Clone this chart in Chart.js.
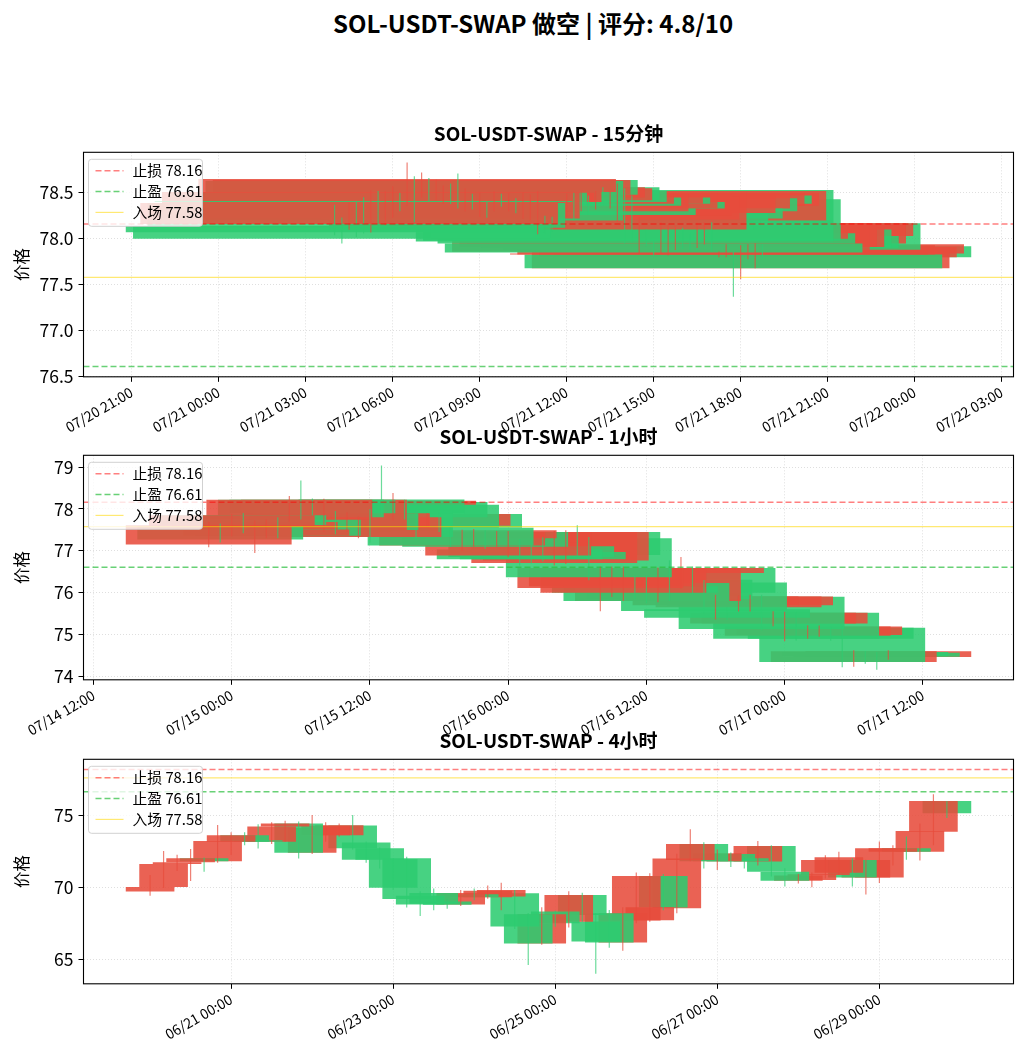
<!DOCTYPE html>
<html lang="zh">
<head>
<meta charset="utf-8">
<title>SOL-USDT-SWAP 做空</title>
<script src="https://cdn.jsdelivr.net/npm/chart.js@4.4.1/dist/chart.umd.min.js"></script>
<style>
  body { margin: 0; background: #fff; }
  #page { position: relative; width: 1024px; height: 1058px; overflow: hidden;
          font-family: "Noto Sans CJK SC", "Noto Sans", sans-serif; }
  #suptitle { position: absolute; left: 21px; top: 7px; width: 1024px; text-align: center;
              font-size: 24px; font-weight: bold; line-height: 32px; color: #000; }
  canvas { position: absolute; left: 0; }
</style>
</head>
<body>
<div id="page">
  <div id="suptitle">SOL-USDT-SWAP 做空 | 评分: 4.8/10</div>
  <canvas id="chart15m" width="1024" height="347" style="top:100px"></canvas>
  <canvas id="chart1h" width="1024" height="347" style="top:403px"></canvas>
  <canvas id="chart4h" width="1024" height="347" style="top:707px"></canvas>
</div>
<script>
const FONT = '"Noto Sans CJK SC", "Noto Sans", sans-serif';
Chart.defaults.font.family = FONT;
Chart.defaults.color = '#000';

const UP = 'rgba(231, 76, 60, 0.88)';    // 红涨
const DOWN = 'rgba(46, 204, 113, 0.88)'; // 绿跌
const UP_WICK = 'rgba(231, 76, 60, 0.7)';
const DOWN_WICK = 'rgba(46, 204, 113, 0.7)';
const CANDLE_WIDTH_H = 14.4;             // bar width = 0.6 day

const stopLoss = 78.16;
const takeProfit = 76.61;
const entryPrice = 77.58;

// ---------- 15分钟 (hours from 07/20 00:00) ----------
const start15 = 28;
const step15 = 0.25;
const open15 = [78.14, 78.14, 78.16, 78.39, 78.41, 78.22, 78.50, 78.40, 78.40, 78.40,
                78.51, 78.63, 78.48, 78.64, 78.45, 78.42, 78.56, 78.52, 78.38, 78.45,
                78.30, 78.33, 78.38, 78.45, 78.33, 78.40, 78.25, 78.21, 78.10, 78.19,
                78.19, 78.28, 78.28, 78.33, 78.33, 78.44, 78.36, 78.47, 78.36, 78.20,
                78.53, 78.43, 78.00, 78.06, 77.95, 77.86, 77.91, 77.91, 78.10, 78.03,
                77.95, 78.03, 78.17, 77.83, 77.83, 77.83, 77.68, 77.80, 77.84, 77.92];
const close15 = [78.07, 78.00, 78.39, 78.12, 78.40, 78.51, 78.37, 78.50, 78.51, 78.38,
                 78.65, 78.20, 78.64, 78.48, 78.56, 78.55, 78.42, 78.40, 78.50, 78.36,
                 78.48, 78.26, 78.50, 78.38, 78.49, 78.33, 78.48, 78.46, 78.50, 78.10,
                 78.13, 78.19, 78.47, 78.22, 78.48, 78.30, 78.50, 78.38, 78.50, 78.52,
                 77.97, 77.98, 78.17, 77.95, 77.85, 78.17, 78.15, 78.12, 77.91, 77.90,
                 78.17, 78.17, 77.88, 77.84, 77.93, 77.68, 77.91, 77.91, 77.94, 77.80];
const high15 = [78.37, 78.23, 78.40, 78.40, 78.45, 78.53, 78.52, 78.52, 78.57, 78.50,
                78.83, 78.68, 78.72, 78.66, 78.64, 78.58, 78.60, 78.71, 78.55, 78.49,
                78.50, 78.40, 78.52, 78.49, 78.50, 78.44, 78.50, 78.48, 78.52, 78.25,
                78.24, 78.33, 78.49, 78.50, 78.50, 78.47, 78.52, 78.56, 78.52, 78.60,
                78.55, 78.47, 78.23, 78.10, 77.98, 78.18, 78.16, 78.14, 78.12, 78.06,
                78.18, 78.18, 78.18, 77.86, 77.94, 77.86, 77.93, 77.94, 77.95, 77.94];
const low15 = [78.04, 77.95, 78.10, 78.02, 78.06, 78.07, 78.10, 78.15, 78.23, 78.30,
               78.36, 78.18, 78.45, 78.41, 78.42, 78.38, 78.38, 78.33, 78.30, 78.32,
               78.24, 78.23, 78.30, 78.35, 78.30, 78.28, 78.22, 78.20, 78.05, 78.06,
               78.08, 78.15, 78.24, 78.20, 78.30, 78.26, 78.32, 78.36, 78.33, 78.19,
               77.95, 77.96, 77.84, 77.92, 77.82, 77.84, 77.82, 77.88, 77.89, 77.88,
               77.90, 77.94, 77.86, 77.80, 77.80, 77.37, 77.56, 77.78, 77.68, 77.78];
const xTicks15 = [21, 24, 27, 30, 33, 36, 39, 42, 45, 48, 51];
const xLabels15 = ['07/20 21:00', '07/21 00:00', '07/21 03:00', '07/21 06:00', '07/21 09:00',
                   '07/21 12:00', '07/21 15:00', '07/21 18:00', '07/21 21:00', '07/22 00:00',
                   '07/22 03:00'];
const yTicks15 = [76.5, 77.0, 77.5, 78.0, 78.5];

// ---------- 1小时 (hours from 07/14 00:00) ----------
const start1h = 22;
const step1h = 1;
const open1h = [77.15, 77.58, 77.58, 77.85, 77.51, 77.36, 77.74, 77.74, 78.22, 78.22,
                77.50, 77.90, 77.55, 77.33, 77.95, 78.23, 78.10, 78.17, 78.10, 77.60,
                77.88, 77.55, 77.13, 77.30, 77.45, 77.20, 76.89, 77.03, 77.11, 76.97,
                76.71, 76.77, 77.45, 77.30, 76.11, 76.15, 76.00, 76.15, 76.23, 75.80,
                76.31, 76.47, 76.59, 76.24, 75.70, 75.60, 75.65, 75.70, 75.90, 75.26,
                75.26, 75.52, 74.97, 74.99, 75.16, 75.16, 74.34, 74.58, 74.56, 74.46];
const close1h = [77.61, 77.27, 77.85, 77.62, 77.69, 77.51, 77.36, 78.22, 77.80, 77.90,
                 78.22, 77.50, 77.90, 77.80, 77.33, 77.90, 78.20, 77.80, 77.55, 77.88,
                 77.55, 77.13, 77.45, 77.49, 77.10, 77.45, 77.45, 76.80, 76.85, 76.80,
                 77.45, 77.45, 76.90, 76.37, 76.59, 76.59, 76.59, 76.00, 75.80, 76.59,
                 75.85, 76.59, 76.00, 75.56, 75.91, 75.40, 75.91, 75.91, 75.13, 75.52,
                 75.52, 74.90, 75.19, 75.19, 74.90, 74.34, 74.60, 74.48, 74.47, 74.60];
const high1h = [77.70, 77.65, 77.88, 77.90, 77.72, 77.75, 77.80, 78.31, 78.68, 78.25,
                78.24, 77.95, 77.92, 77.82, 78.00, 79.04, 78.38, 78.22, 78.12, 77.90,
                77.92, 77.60, 77.50, 77.52, 77.49, 77.47, 77.47, 77.28, 77.30, 77.32,
                77.47, 77.49, 77.61, 77.33, 76.62, 76.62, 76.62, 76.40, 76.40, 76.60,
                76.77, 76.85, 76.62, 76.30, 75.95, 75.65, 75.93, 75.95, 75.95, 75.55,
                75.54, 75.55, 75.22, 75.21, 75.18, 75.18, 74.62, 74.60, 74.58, 74.62];
const low1h = [77.09, 77.20, 77.35, 77.42, 76.95, 77.30, 77.30, 77.70, 77.75, 77.85,
               77.45, 77.40, 77.45, 77.30, 77.20, 77.85, 77.73, 77.75, 77.27, 77.55,
               77.45, 77.10, 77.00, 77.10, 77.05, 77.10, 76.85, 76.65, 76.70, 76.75,
               76.65, 76.69, 76.85, 76.30, 75.56, 75.90, 75.80, 75.85, 75.75, 75.77,
               75.80, 76.10, 75.95, 75.50, 75.36, 75.35, 75.55, 75.55, 75.10, 75.20,
               74.84, 74.85, 74.90, 74.95, 74.85, 74.22, 74.23, 74.30, 74.16, 74.40];
const xTicks1h = [12, 24, 36, 48, 60, 72, 84];
const xLabels1h = ['07/14 12:00', '07/15 00:00', '07/15 12:00', '07/16 00:00',
                   '07/16 12:00', '07/17 00:00', '07/17 12:00'];
const yTicks1h = [74, 75, 76, 77, 78, 79];

// ---------- 4小时 (hours from 06/20 00:00) ----------
const start4h = 0;
const step4h = 4;
const open4h = [69.70, 70.00, 71.60, 71.72, 72.00, 71.80, 73.15, 73.60, 73.25, 73.15,
                74.20, 74.42, 72.39, 73.60, 73.60, 74.28, 73.10, 72.70, 71.93, 72.00,
                69.40, 69.60, 69.00, 68.80, 69.50, 69.30, 69.35, 69.57, 68.12, 66.09,
                68.30, 67.60, 69.46, 67.61, 68.19, 66.16, 67.68, 67.70, 70.77, 68.53,
                71.88, 73.00, 71.80, 72.30, 72.00, 71.77, 72.85, 71.07, 70.45, 70.50,
                70.84, 71.00, 71.88, 70.66, 70.66, 72.46, 72.69, 72.46, 73.85, 75.97];
const close4h = [70.00, 71.60, 71.72, 72.00, 71.80, 73.20, 73.60, 73.15, 73.15, 74.20,
                 74.42, 72.39, 74.12, 74.25, 74.30, 72.69, 71.90, 71.90, 69.96, 69.18,
                 68.80, 68.85, 68.77, 69.60, 69.30, 69.75, 69.80, 67.26, 66.09, 68.12,
                 67.50, 69.46, 68.07, 66.22, 66.16, 68.19, 70.77, 68.60, 68.58, 71.99,
                 73.00, 71.80, 72.35, 71.77, 71.80, 72.85, 71.07, 70.45, 70.80, 70.90,
                 71.88, 72.07, 70.66, 71.88, 72.69, 72.69, 72.46, 73.89, 75.97, 75.12];
const high4h = [70.84, 72.50, 72.23, 72.64, 72.04, 74.31, 73.80, 73.80, 74.35, 74.50,
                74.60, 74.55, 75.00, 74.50, 74.40, 75.00, 73.15, 72.75, 72.00, 72.10,
                69.70, 69.90, 69.20, 69.80, 69.90, 70.10, 70.30, 69.80, 68.20, 68.60,
                68.35, 69.70, 69.60, 68.20, 68.40, 68.60, 71.00, 70.96, 70.90, 72.30,
                74.00, 73.10, 72.60, 72.40, 72.10, 73.20, 72.90, 71.30, 70.90, 71.00,
                72.20, 72.45, 72.00, 71.90, 73.15, 72.90, 73.50, 74.40, 76.43, 75.97];
const low4h = [69.41, 69.95, 71.12, 70.43, 71.07, 71.70, 72.23, 72.92, 72.69, 73.00,
               73.15, 72.00, 72.30, 73.15, 73.50, 72.60, 71.70, 71.30, 69.80, 68.60,
               68.00, 68.40, 68.50, 68.70, 69.10, 69.20, 68.40, 67.10, 64.60, 66.00,
               67.26, 67.20, 67.60, 64.00, 65.80, 65.60, 67.50, 67.60, 68.40, 68.20,
               71.80, 71.30, 71.20, 71.40, 71.30, 71.50, 70.75, 70.05, 70.25, 70.00,
               70.60, 70.90, 70.05, 69.50, 70.30, 71.50, 71.90, 71.85, 72.92, 74.80];
const xTicks4h = [24, 72, 120, 168, 216];
const xLabels4h = ['06/21 00:00', '06/23 00:00', '06/25 00:00', '06/27 00:00', '06/29 00:00'];
const yTicks4h = [65, 70, 75];

// ---------- plugins ----------
const legendBox = {
  id: 'legendBox',
  afterDatasetsDraw(chart) {
    const items = chart.data.datasets.filter(d => d.type === 'line');
    const { left, top } = chart.chartArea;
    const ctx = chart.ctx;
    const x = left + 5, y = top + 7;
    ctx.save();
    ctx.beginPath();
    ctx.roundRect(x, y, 114, 67, 3);
    ctx.fillStyle = 'rgba(255,255,255,0.8)';
    ctx.fill();
    ctx.strokeStyle = 'rgba(204,204,204,0.9)';
    ctx.lineWidth = 1;
    ctx.stroke();
    ctx.font = '14.8px ' + FONT;
    ctx.textBaseline = 'middle';
    items.forEach((d, i) => {
      const cy = y + 11.5 + i * 20.8;
      ctx.beginPath();
      ctx.setLineDash(d.borderDash || []);
      ctx.strokeStyle = d.borderColor;
      ctx.lineWidth = d.borderWidth;
      ctx.moveTo(x + 7, cy);
      ctx.lineTo(x + 35, cy);
      ctx.stroke();
      ctx.setLineDash([]);
      ctx.fillStyle = '#000';
      ctx.fillText(d.label, x + 44, cy);
    });
    ctx.restore();
  }
};

const frame = {
  id: 'frame',
  afterDraw(chart) {
    const { left, top, width, height } = chart.chartArea;
    const ctx = chart.ctx;
    ctx.save();
    ctx.strokeStyle = '#000';
    ctx.lineWidth = 1.1;
    ctx.strokeRect(left, top, width, height);
    ctx.restore();
  }
};

function drawPanel(id, title, start, step, open, close, high, low, xTicks, xLabels, yTicks, dec) {
  const times = open.map((_, i) => start + i * step);

  // matplotlib style autoscale: bar extents plus 5% margin
  const lo = times[0] - CANDLE_WIDTH_H / 2;
  const hi = times[times.length - 1] + CANDLE_WIDTH_H / 2;
  const xMin = lo - (hi - lo) * 0.05;
  const xMax = hi + (hi - lo) * 0.05;
  const yLo = Math.min(...low, stopLoss, takeProfit, entryPrice);
  const yHi = Math.max(...high, stopLoss, takeProfit, entryPrice);
  const yMin = yLo - (yHi - yLo) * 0.05;
  const yMax = yHi + (yHi - yLo) * 0.05;

  const bodies = times.map((t, i) => ({ x: t, y: [open[i], close[i]], up: close[i] >= open[i] }));
  const wicks = times.map((t, i) => ({ x: t, y: [low[i], high[i]], up: close[i] >= open[i] }));
  // the exchange returns newest candle first and it is drawn in that order,
  // so older bars land on top of newer ones
  bodies.reverse();
  wicks.reverse();

  const hline = (label, value, color, dash, width) => ({
    type: 'line', label, data: [{ x: xMin, y: value }, { x: xMax, y: value }],
    borderColor: color, borderDash: dash, borderWidth: width,
    pointRadius: 0, fill: false, order: 0
  });

  const gridStyle = { color: 'rgba(176,176,176,0.4)', lineWidth: 1, tickLength: 5,
                      tickColor: '#000', tickWidth: 1, offset: false };

  new Chart(document.getElementById(id), {
    type: 'bar',
    data: {
      datasets: [
        hline('止损 ' + stopLoss, stopLoss, 'rgba(255,0,0,0.5)', [6, 3], 1.5),
        hline('止盈 ' + takeProfit, takeProfit, 'rgba(40,190,60,0.7)', [6, 3], 1.5),
        hline('入场 ' + entryPrice, entryPrice, 'rgba(255,215,0,0.55)', [], 1.2),
        { type: 'bar', data: wicks, borderWidth: 0,
          backgroundColor: c => (c.raw && c.raw.up ? UP_WICK : DOWN_WICK),
          grouped: false, barThickness: 1, inflateAmount: 0.1, order: 1 },
        { type: 'bar', data: bodies, borderWidth: 0,
          backgroundColor: c => (c.raw && c.raw.up ? UP : DOWN),
          grouped: false, categoryPercentage: CANDLE_WIDTH_H / step, barPercentage: 1,
          inflateAmount: 0, order: 2 }
      ]
    },
    options: {
      responsive: false,
      animation: false,
      layout: { padding: { left: 0, right: 10.5, top: 0, bottom: 0 } },
      plugins: {
        legend: { display: false },
        tooltip: { enabled: false },
        title: { display: true, text: title, fullSize: false, color: '#000',
                 font: { size: 19, weight: 'bold' }, padding: { top: 21.9, bottom: 7.6 } }
      },
      scales: {
        x: {
          type: 'linear', min: xMin, max: xMax, bounds: 'data', offset: false,
          afterBuildTicks: s => { s.ticks = xTicks.map(v => ({ value: v })); },
          afterFit: s => { s.height = 70.2; },
          ticks: { autoSkip: false, minRotation: 30, maxRotation: 30, padding: 2,
                   color: '#000', font: { size: 14 },
                   callback: (v, i) => xLabels[i] },
          grid: gridStyle,
          border: { display: false, dash: [1, 2] }
        },
        y: {
          type: 'linear', min: yMin, max: yMax, bounds: 'data',
          afterBuildTicks: s => { s.ticks = yTicks.map(v => ({ value: v })); },
          afterFit: s => { s.width = 83.5; },
          ticks: { padding: 5, color: '#000', font: { size: 17.5 },
                   callback: v => v.toFixed(dec) },
          title: { display: true, text: '价格', color: '#000', font: { size: 16.5 },
                   padding: { top: 12, bottom: 0 } },
          grid: gridStyle,
          border: { display: false, dash: [1, 2] }
        }
      }
    },
    plugins: [legendBox, frame]
  });
}

drawPanel('chart15m', 'SOL-USDT-SWAP - 15分钟', start15, step15,
          open15, close15, high15, low15, xTicks15, xLabels15, yTicks15, 1);
drawPanel('chart1h', 'SOL-USDT-SWAP - 1小时', start1h, step1h,
          open1h, close1h, high1h, low1h, xTicks1h, xLabels1h, yTicks1h, 0);
drawPanel('chart4h', 'SOL-USDT-SWAP - 4小时', start4h, step4h,
          open4h, close4h, high4h, low4h, xTicks4h, xLabels4h, yTicks4h, 0);
</script>
</body>
</html>
